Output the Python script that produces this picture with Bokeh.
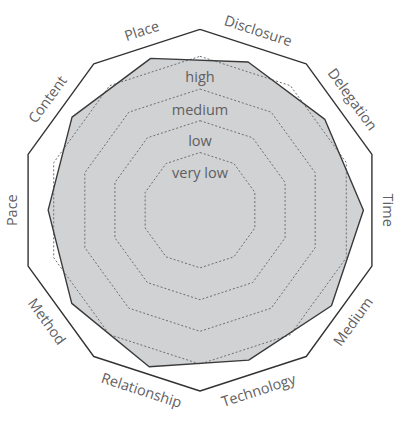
import numpy as np
from bokeh.plotting import figure
from bokeh.models import ColumnDataSource
from bokeh.core.properties import value
from bokeh.embed import file_html
from bokeh.resources import INLINE

# Axes (clockwise from upper-left), angle of each axis in degrees
categories = ["Place", "Disclosure", "Delegation", "Time", "Medium",
              "Technology", "Relationship", "Method", "Pace", "Content"]
axis_angles = [108, 72, 36, 0, -36, -72, -108, -144, 180, 144]
# Profile values, as a fraction of the outer frame radius
scores = [0.883, 0.862, 0.854, 0.904, 0.899, 0.872, 0.910, 0.877, 0.840, 0.875]
# Reference levels (dotted decagons)
level_names = ["very low", "low", "medium", "high"]
level_radii = [0.319, 0.495, 0.670, 0.851]
frame_radius = 1.0

FONT = "Open Sans"
TEXT_COLOR = "#5f6062"

p = figure(width=399, height=416, output_backend="svg", toolbar_location=None,
           x_range=(-207.5 / 188, 207.5 / 188), y_range=(-214.5 / 188, 218 / 188),
           min_border=0)
p.axis.visible = False
p.grid.visible = False
p.outline_line_color = None
p.background_fill_color = "white"
p.border_fill_color = "white"

# decagon vertices for grid (vertex at top)
grid_ang = np.deg2rad(90 - 36 * np.arange(10))

# profile polygon
a = np.deg2rad(np.array(axis_angles, dtype=float))
s = np.array(scores)
px = s * np.cos(a)
py = s * np.sin(a)
p.patch(px, py, fill_color="#d1d2d4", line_color=None)

# dotted level decagons
for r in level_radii:
    xs = list(r * np.cos(grid_ang)) + [r * np.cos(grid_ang[0])]
    ys = list(r * np.sin(grid_ang)) + [r * np.sin(grid_ang[0])]
    p.line(xs, ys, line_color="#6d6e70", line_dash="2 2", line_width=1)

# profile outline
p.line(list(px) + [px[0]], list(py) + [py[0]], line_color="#3a3a3a", line_width=1.4)

# outer frame
fx = list(frame_radius * np.cos(grid_ang)) + [frame_radius * np.cos(grid_ang[0])]
fy = list(frame_radius * np.sin(grid_ang)) + [frame_radius * np.sin(grid_ang[0])]
p.line(fx, fy, line_color="#333333", line_width=1.4)

# level labels
lsrc = ColumnDataSource(dict(x=[0.0] * len(level_names),
                             y=[r - 0.112 for r in level_radii],
                             t=level_names))
p.text(x="x", y="y", text="t", source=lsrc, text_align="center",
       text_baseline="middle", text_font=value(FONT), text_font_size="14.5px",
       text_color=TEXT_COLOR)

# category labels, rotated along frame edges
lab_r = 1.045
rots = []
for ang in axis_angles:
    if 0 <= ang <= 180:
        rots.append(np.deg2rad(ang - 90))
    else:
        rots.append(np.deg2rad(ang + 90))
csrc = ColumnDataSource(dict(x=lab_r * np.cos(a), y=lab_r * np.sin(a),
                             t=categories, r=rots))
p.text(x="x", y="y", text="t", angle="r", source=csrc, text_align="center",
       text_baseline="middle", text_font=value(FONT), text_font_size="14.5px",
       text_color=TEXT_COLOR)

open("out.html", "w").write(file_html(p, INLINE))
